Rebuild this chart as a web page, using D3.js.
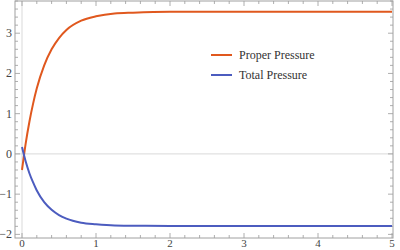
<!DOCTYPE html>
<html>
<head>
<meta charset="utf-8">
<script src="https://cdn.jsdelivr.net/npm/d3@7"></script>
<style>
  body { margin: 0; background: #fff; }
</style>
</head>
<body>
<div id="chart"></div>
<script>
// values
var times = [0, 0.05, 0.1, 0.15, 0.2, 0.3, 0.4, 0.5, 0.6, 0.8, 1, 1.25, 1.5, 2, 3, 4, 5];
var properPressure = [-0.40, 0.26, 0.80, 1.25, 1.63, 2.20, 2.60, 2.88, 3.08, 3.31, 3.42, 3.49, 3.51, 3.53, 3.53, 3.53, 3.53];
var totalPressure = [0.17, -0.19, -0.48, -0.71, -0.91, -1.20, -1.39, -1.52, -1.61, -1.71, -1.75, -1.78, -1.785, -1.79, -1.79, -1.79, -1.79];
var seriesNames = ["Proper Pressure", "Total Pressure"];
var seriesColors = ["#e0581e", "#4c5cbf"];
var xTicks = [0, 1, 2, 3, 4, 5];
var yTicks = [-2, -1, 0, 1, 2, 3];

var width = 400, height = 250;
var frame = {left: 15, right: 393, top: 1, bottom: 238};
var serif = "'Liberation Serif', 'Times New Roman', serif";

var x = d3.scaleLinear().domain([0, 5]).range([22, 392]);
var y = d3.scaleLinear().domain([-2.09, 3.80]).range([frame.bottom, frame.top]);

var svg = d3.select("#chart").append("svg")
    .attr("width", width)
    .attr("height", height)
    .attr("font-family", serif);

// axes lines at zero
svg.append("line")
    .attr("x1", frame.left).attr("x2", frame.right)
    .attr("y1", y(0)).attr("y2", y(0))
    .attr("stroke", "#d9d9d9").attr("stroke-width", 1);
svg.append("line")
    .attr("x1", x(0)).attr("x2", x(0))
    .attr("y1", frame.top).attr("y2", frame.bottom)
    .attr("stroke", "#d9d9d9").attr("stroke-width", 1);

// frame ticks (inward, minor every 0.2)
var minorX = d3.range(0, 5.001, 0.2);
var minorY = d3.range(-2, 3.801, 0.2);
function isMajor(v) { return Math.abs(v - Math.round(v)) < 1e-6; }

var ticks = svg.append("g").attr("stroke", "#999").attr("stroke-width", 0.8);
minorX.forEach(function(v) {
  var len = isMajor(v) ? 5 : 3;
  ticks.append("line").attr("x1", x(v)).attr("x2", x(v))
    .attr("y1", frame.bottom).attr("y2", frame.bottom - len);
  ticks.append("line").attr("x1", x(v)).attr("x2", x(v))
    .attr("y1", frame.top).attr("y2", frame.top + len);
});
minorY.forEach(function(v) {
  var len = isMajor(v) ? 5 : 3;
  ticks.append("line").attr("y1", y(v)).attr("y2", y(v))
    .attr("x1", frame.left).attr("x2", frame.left + len);
  ticks.append("line").attr("y1", y(v)).attr("y2", y(v))
    .attr("x1", frame.right).attr("x2", frame.right - len);
});

svg.append("rect")
    .attr("x", frame.left).attr("y", frame.top)
    .attr("width", frame.right - frame.left)
    .attr("height", frame.bottom - frame.top)
    .attr("fill", "none").attr("stroke", "#a0a0a0").attr("stroke-width", 1);

// tick labels
svg.selectAll(".xlab").data(xTicks).enter().append("text")
    .attr("x", function(d) { return x(d); })
    .attr("y", 247)
    .attr("text-anchor", "middle")
    .attr("font-size", 11).attr("fill", "#444")
    .text(function(d) { return d; });
svg.selectAll(".ylab").data(yTicks).enter().append("text")
    .attr("x", frame.left - 3)
    .attr("y", function(d) { return y(d) + 4; })
    .attr("text-anchor", "end")
    .attr("font-size", 12).attr("fill", "#444")
    .text(function(d) { return d < 0 ? "\u2212" + Math.abs(d) : d; });

// curves
var line = d3.line()
    .x(function(d) { return x(d[0]); })
    .y(function(d) { return y(d[1]); })
    .curve(d3.curveMonotoneX);

[properPressure, totalPressure].forEach(function(vals, i) {
  svg.append("path")
      .datum(times.map(function(t, j) { return [t, vals[j]]; }))
      .attr("fill", "none")
      .attr("stroke", seriesColors[i])
      .attr("stroke-width", 2)
      .attr("d", line);
});

// legend
var legend = svg.append("g");
seriesNames.forEach(function(name, i) {
  var ly = 55 + i * 20;
  legend.append("line")
      .attr("x1", 211).attr("x2", 232)
      .attr("y1", ly).attr("y2", ly)
      .attr("stroke", seriesColors[i]).attr("stroke-width", 2);
  legend.append("text")
      .attr("x", 239).attr("y", ly + 4)
      .attr("font-size", 12).attr("fill", "#333")
      .text(name);
});
</script>
</body>
</html>
